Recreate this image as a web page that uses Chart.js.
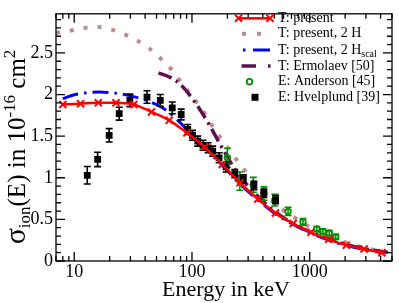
<!DOCTYPE html>
<html>
<head>
<meta charset="utf-8">
<script src="https://cdn.jsdelivr.net/npm/chart.js@4.4.0/dist/chart.umd.min.js"></script>
<style>
  html, body { margin: 0; padding: 0; background: #fff; }
</style>
</head>
<body>
<canvas id="sigmaChart" width="399" height="303"></canvas>
<script>
// tick values
const xTickVals = [10, 100, 1000];
const yTickVals = [0, 0.5, 1, 1.5, 2, 2.5];

// T: present
const presentE = [8, 11.31, 16, 22.63, 32, 45.25, 64, 90.51, 128, 181.02, 256, 362.04, 512, 724.08, 1024, 1448.15, 2048, 2896.31, 4096];
const presentSigma = [1.88, 1.89, 1.90, 1.90, 1.88, 1.79, 1.69, 1.54, 1.37, 1.16, 0.94, 0.745, 0.577, 0.45, 0.345, 0.26, 0.19, 0.145, 0.10];

// T: present, 2 H
const twoHE = [7, 9.4, 12.2, 16, 20.8, 27, 34.2, 42.9, 52.4, 63.6, 75, 89.2, 103.5, 121.7, 140, 161.8, 188, 221, 260, 361, 436, 530, 664, 834, 1045, 1448, 2048, 2896, 4096, 5000];
const twoHSigma = [2.74, 2.77, 2.80, 2.81, 2.78, 2.72, 2.65, 2.56, 2.45, 2.34, 2.21, 2.07, 1.95, 1.82, 1.68, 1.547, 1.417, 1.28, 1.148, 0.89, 0.775, 0.668, 0.565, 0.478, 0.393, 0.30, 0.22, 0.16, 0.115, 0.10];

// T: present, 2 H_scal
const scalE = [8, 10.2, 16, 21.3, 28.7, 41, 49.8, 60.5, 83.6, 100, 128, 181, 256, 362, 512, 724, 1024, 1448, 2048, 2896, 4096];
const scalSigma = [1.95, 2.00, 2.03, 2.02, 1.99, 1.93, 1.88, 1.81, 1.63, 1.50, 1.36, 1.15, 0.925, 0.735, 0.565, 0.44, 0.335, 0.25, 0.185, 0.14, 0.10];

// T: Ermolaev [50]
const ermE = [52, 66.7, 80, 91.4, 115.6, 140, 176, 243, 350, 500, 700, 1000, 1500, 2000, 3000, 5000];
const ermSigma = [2.26, 2.20, 2.12, 2.03, 1.83, 1.64, 1.386, 1.06, 0.80, 0.60, 0.46, 0.35, 0.26, 0.20, 0.145, 0.095];

// E: Anderson [45]
const andE = [200, 255, 332, 409, 506, 655, 877, 1150, 1295, 1466, 1665];
const andSigma = [1.24, 0.96, 0.915, 0.81, 0.73, 0.596, 0.47, 0.385, 0.355, 0.336, 0.29];
const andErr = [0.115, 0.11, 0.09, 0.08, 0.07, 0.05, 0.04, 0.03, 0.03, 0.03, 0.03];

// E: Hvelplund [39]
const hvelE = [12.9, 15.8, 19.8, 24.1, 29.7, 41.5, 53.8, 68, 81, 92, 101, 112, 124, 137, 150, 170, 195, 231, 273, 336, 408, 513];
const hvelSigma = [1.03, 1.22, 1.51, 1.77, 1.93, 1.97, 1.93, 1.84, 1.76, 1.58, 1.51, 1.44, 1.39, 1.36, 1.32, 1.24, 1.13, 1.05, 0.985, 0.908, 0.813, 0.737];
const hvelErr = [0.105, 0.086, 0.08, 0.077, 0.075, 0.075, 0.07, 0.07, 0.065, 0.06, 0.06, 0.06, 0.06, 0.06, 0.06, 0.06, 0.06, 0.05, 0.05, 0.05, 0.05, 0.05];

const serif = '"Liberation Serif", "Times New Roman", serif';
const toXY = (xs, ys) => xs.map((x, i) => ({ x: x, y: ys[i] }));

const RED = '#ff0000';
const PINK = 'rgb(190,140,140)';
const BLUE = '#0000ff';
const PURPLE = 'rgb(95,15,80)';
const GREEN = '#009000';

// error bars under the marker datasets
const errorBars = {
    id: 'errorBars',
    beforeDatasetDraw(chart, args) {
        const ds = chart.data.datasets[args.index];
        if (!ds.errors) return;
        const c = chart.ctx;
        const xs = chart.scales.x, ys = chart.scales.y;
        c.save();
        c.strokeStyle = ds.borderColor;
        c.lineWidth = 1.6;
        ds.data.forEach((p, i) => {
            const px = xs.getPixelForValue(p.x);
            const top = ys.getPixelForValue(p.y + ds.errors[i]);
            const bot = ys.getPixelForValue(p.y - ds.errors[i]);
            c.beginPath();
            c.moveTo(px, top); c.lineTo(px, bot);
            c.moveTo(px - 3.5, top); c.lineTo(px + 3.5, top);
            c.moveTo(px - 3.5, bot); c.lineTo(px + 3.5, bot);
            c.stroke();
        });
        c.restore();
    }
};

// frame with inward ticks on all four sides
const frameTicks = {
    id: 'frameTicks',
    afterDraw(chart) {
        const c = chart.ctx;
        const a = chart.chartArea;
        const xs = chart.scales.x, ys = chart.scales.y;
        c.save();
        c.strokeStyle = '#000';
        c.lineWidth = 1.3;
        c.strokeRect(a.left, a.top, a.right - a.left, a.bottom - a.top);
        c.beginPath();
        for (let d = 1; d <= 1000; d *= 10) {
            for (let m = 1; m <= 9; m++) {
                const v = d * m;
                if (v < 7 || v > 5000) continue;
                const px = xs.getPixelForValue(v);
                const len = m === 1 ? 9 : 5;
                c.moveTo(px, a.bottom); c.lineTo(px, a.bottom - len);
                c.moveTo(px, a.top); c.lineTo(px, a.top + len);
            }
        }
        for (let k = 0; k <= 29; k++) {
            const v = k / 10;
            const py = ys.getPixelForValue(v);
            const len = k % 5 === 0 ? 9 : 5;
            c.moveTo(a.left, py); c.lineTo(a.left + len, py);
            c.moveTo(a.right, py); c.lineTo(a.right - len, py);
        }
        c.stroke();
        c.restore();
    }
};

// axis titles
const axisTitles = {
    id: 'axisTitles',
    afterDraw(chart) {
        const c = chart.ctx;
        c.save();
        c.fillStyle = '#000';
        c.font = '22px ' + serif;
        c.textAlign = 'center';
        c.textBaseline = 'alphabetic';
        c.fillText('Energy in keV', 226, 296);

        const parts = [
            { t: 'σ', size: 30, dy: 0 },
            { t: 'ion', size: 17, dy: 5 },
            { t: '(E) in 10', size: 25, dy: 0 },
            { t: '-16', size: 17, dy: -10 },
            { t: ' cm', size: 25, dy: 0 },
            { t: '2', size: 17, dy: -10 }
        ];
        c.translate(25, 147);
        c.rotate(-Math.PI / 2);
        c.textAlign = 'left';
        let total = 0;
        parts.forEach(p => {
            c.font = p.size + 'px ' + serif;
            p.w = c.measureText(p.t).width;
            total += p.w;
        });
        let x = -total / 2;
        parts.forEach(p => {
            c.font = p.size + 'px ' + serif;
            c.fillText(p.t, x, p.dy);
            x += p.w;
        });
        c.restore();
    }
};

// legend in the top right corner
const legendBox = {
    id: 'legendBox',
    afterDraw(chart) {
        const c = chart.ctx;
        const rows = [18.3, 33.8, 50, 66, 81.7, 97.3];
        const textX = 278;
        c.save();
        c.lineCap = 'butt';

        // T: present
        let y = rows[0];
        c.strokeStyle = RED; c.lineWidth = 2.5;
        c.beginPath(); c.moveTo(238.5, y); c.lineTo(270, y); c.stroke();
        c.lineWidth = 2;
        [238.5, 270].forEach(px => {
            c.beginPath();
            c.moveTo(px - 3.5, y - 3.5); c.lineTo(px + 3.5, y + 3.5);
            c.moveTo(px - 3.5, y + 3.5); c.lineTo(px + 3.5, y - 3.5);
            c.stroke();
        });

        // T: present, 2 H
        y = rows[1];
        c.fillStyle = PINK;
        [244, 259].forEach(px => c.fillRect(px - 2, y - 2, 4, 4));

        // T: present, 2 H_scal
        y = rows[2];
        c.fillStyle = BLUE;
        c.fillRect(243, y - 1.5, 2.5, 3);
        c.fillRect(253, y - 1.5, 17, 3);

        // T: Ermolaev
        y = rows[3];
        c.fillStyle = PURPLE;
        c.fillRect(241.5, y - 1.75, 14.5, 3.5);
        c.fillRect(268, y - 1.75, 2.5, 3.5);

        // E: Anderson
        y = rows[4];
        c.strokeStyle = GREEN; c.lineWidth = 1.8;
        c.beginPath(); c.arc(249.5, y, 2.8, 0, Math.PI * 2); c.stroke();

        // E: Hvelplund
        y = rows[5];
        c.fillStyle = '#000';
        c.fillRect(251.5, y - 3.5, 7, 7);

        // labels
        c.fillStyle = '#000';
        c.textAlign = 'left';
        c.textBaseline = 'middle';
        c.font = '14px ' + serif;
        c.fillText('T: present', textX, rows[0]);
        c.fillText('T: present, 2 H', textX, rows[1]);
        c.fillText('T: present, 2 H', textX, rows[2]);
        const w = c.measureText('T: present, 2 H').width;
        c.font = '10px ' + serif;
        c.fillText('scal', textX + w, rows[2] + 4);
        c.font = '14px ' + serif;
        c.fillText('T: Ermolaev [50]', textX, rows[3]);
        c.fillText('E: Anderson [45]', textX, rows[4]);
        c.fillText('E: Hvelplund [39]', textX, rows[5]);
        c.restore();
    }
};

const ctx = document.getElementById('sigmaChart').getContext('2d');

new Chart(ctx, {
    type: 'line',
    data: {
        datasets: [
            {
                label: 'T: present',
                data: toXY(presentE, presentSigma),
                borderColor: RED,
                borderWidth: 2.5,
                pointStyle: 'crossRot',
                pointRadius: 5,
                pointBorderWidth: 2,
                pointBorderColor: RED,
                cubicInterpolationMode: 'monotone',
                order: 0
            },
            {
                label: 'E: Hvelplund [39]',
                data: toXY(hvelE, hvelSigma),
                errors: hvelErr,
                showLine: false,
                borderColor: '#000',
                backgroundColor: '#000',
                pointStyle: 'rect',
                pointRadius: 4.8,
                pointBorderWidth: 0,
                order: 1
            },
            {
                label: 'E: Anderson [45]',
                data: toXY(andE, andSigma),
                errors: andErr,
                showLine: false,
                borderColor: GREEN,
                backgroundColor: 'rgba(255,255,255,0)',
                pointStyle: 'circle',
                pointRadius: 2.8,
                pointBorderWidth: 1.8,
                order: 2
            },
            {
                label: 'T: present, 2 Hscal',
                data: toXY(scalE, scalSigma),
                borderColor: BLUE,
                borderWidth: 3,
                borderDash: [16, 6, 2.5, 6],
                pointRadius: 0,
                cubicInterpolationMode: 'monotone',
                order: 3
            },
            {
                label: 'T: Ermolaev [50]',
                data: toXY(ermE, ermSigma),
                borderColor: PURPLE,
                borderWidth: 3.5,
                borderDash: [14, 5, 2.5, 5],
                pointRadius: 0,
                cubicInterpolationMode: 'monotone',
                order: 4
            },
            {
                label: 'T: present, 2 H',
                data: toXY(twoHE, twoHSigma),
                borderColor: PINK,
                borderWidth: 4,
                borderDash: [4, 10],
                pointRadius: 0,
                cubicInterpolationMode: 'monotone',
                order: 5
            }
        ]
    },
    options: {
        responsive: false,
        animation: false,
        devicePixelRatio: 1,
        layout: { padding: { top: 2, right: 5, left: 0, bottom: 0 } },
        plugins: {
            legend: { display: false },
            tooltip: { enabled: false }
        },
        scales: {
            x: {
                type: 'logarithmic',
                min: 7,
                max: 5000,
                grid: { display: false, drawTicks: false },
                border: { display: false },
                ticks: {
                    color: '#000',
                    font: { family: serif, size: 18 },
                    padding: 0,
                    maxRotation: 0,
                    autoSkip: false,
                    callback: v => String(v)
                },
                afterBuildTicks: s => { s.ticks = xTickVals.map(v => ({ value: v })); },
                afterFit: s => { s.height = 42; }
            },
            y: {
                min: 0,
                max: 2.97,
                grid: { display: false, drawTicks: false },
                border: { display: false },
                ticks: {
                    color: '#000',
                    font: { family: serif, size: 18 },
                    padding: 3,
                    callback: v => String(v)
                },
                afterBuildTicks: s => { s.ticks = yTickVals.map(v => ({ value: v })); },
                afterFit: s => { s.width = 56; }
            }
        }
    },
    plugins: [errorBars, frameTicks, axisTitles, legendBox]
});
</script>
</body>
</html>
